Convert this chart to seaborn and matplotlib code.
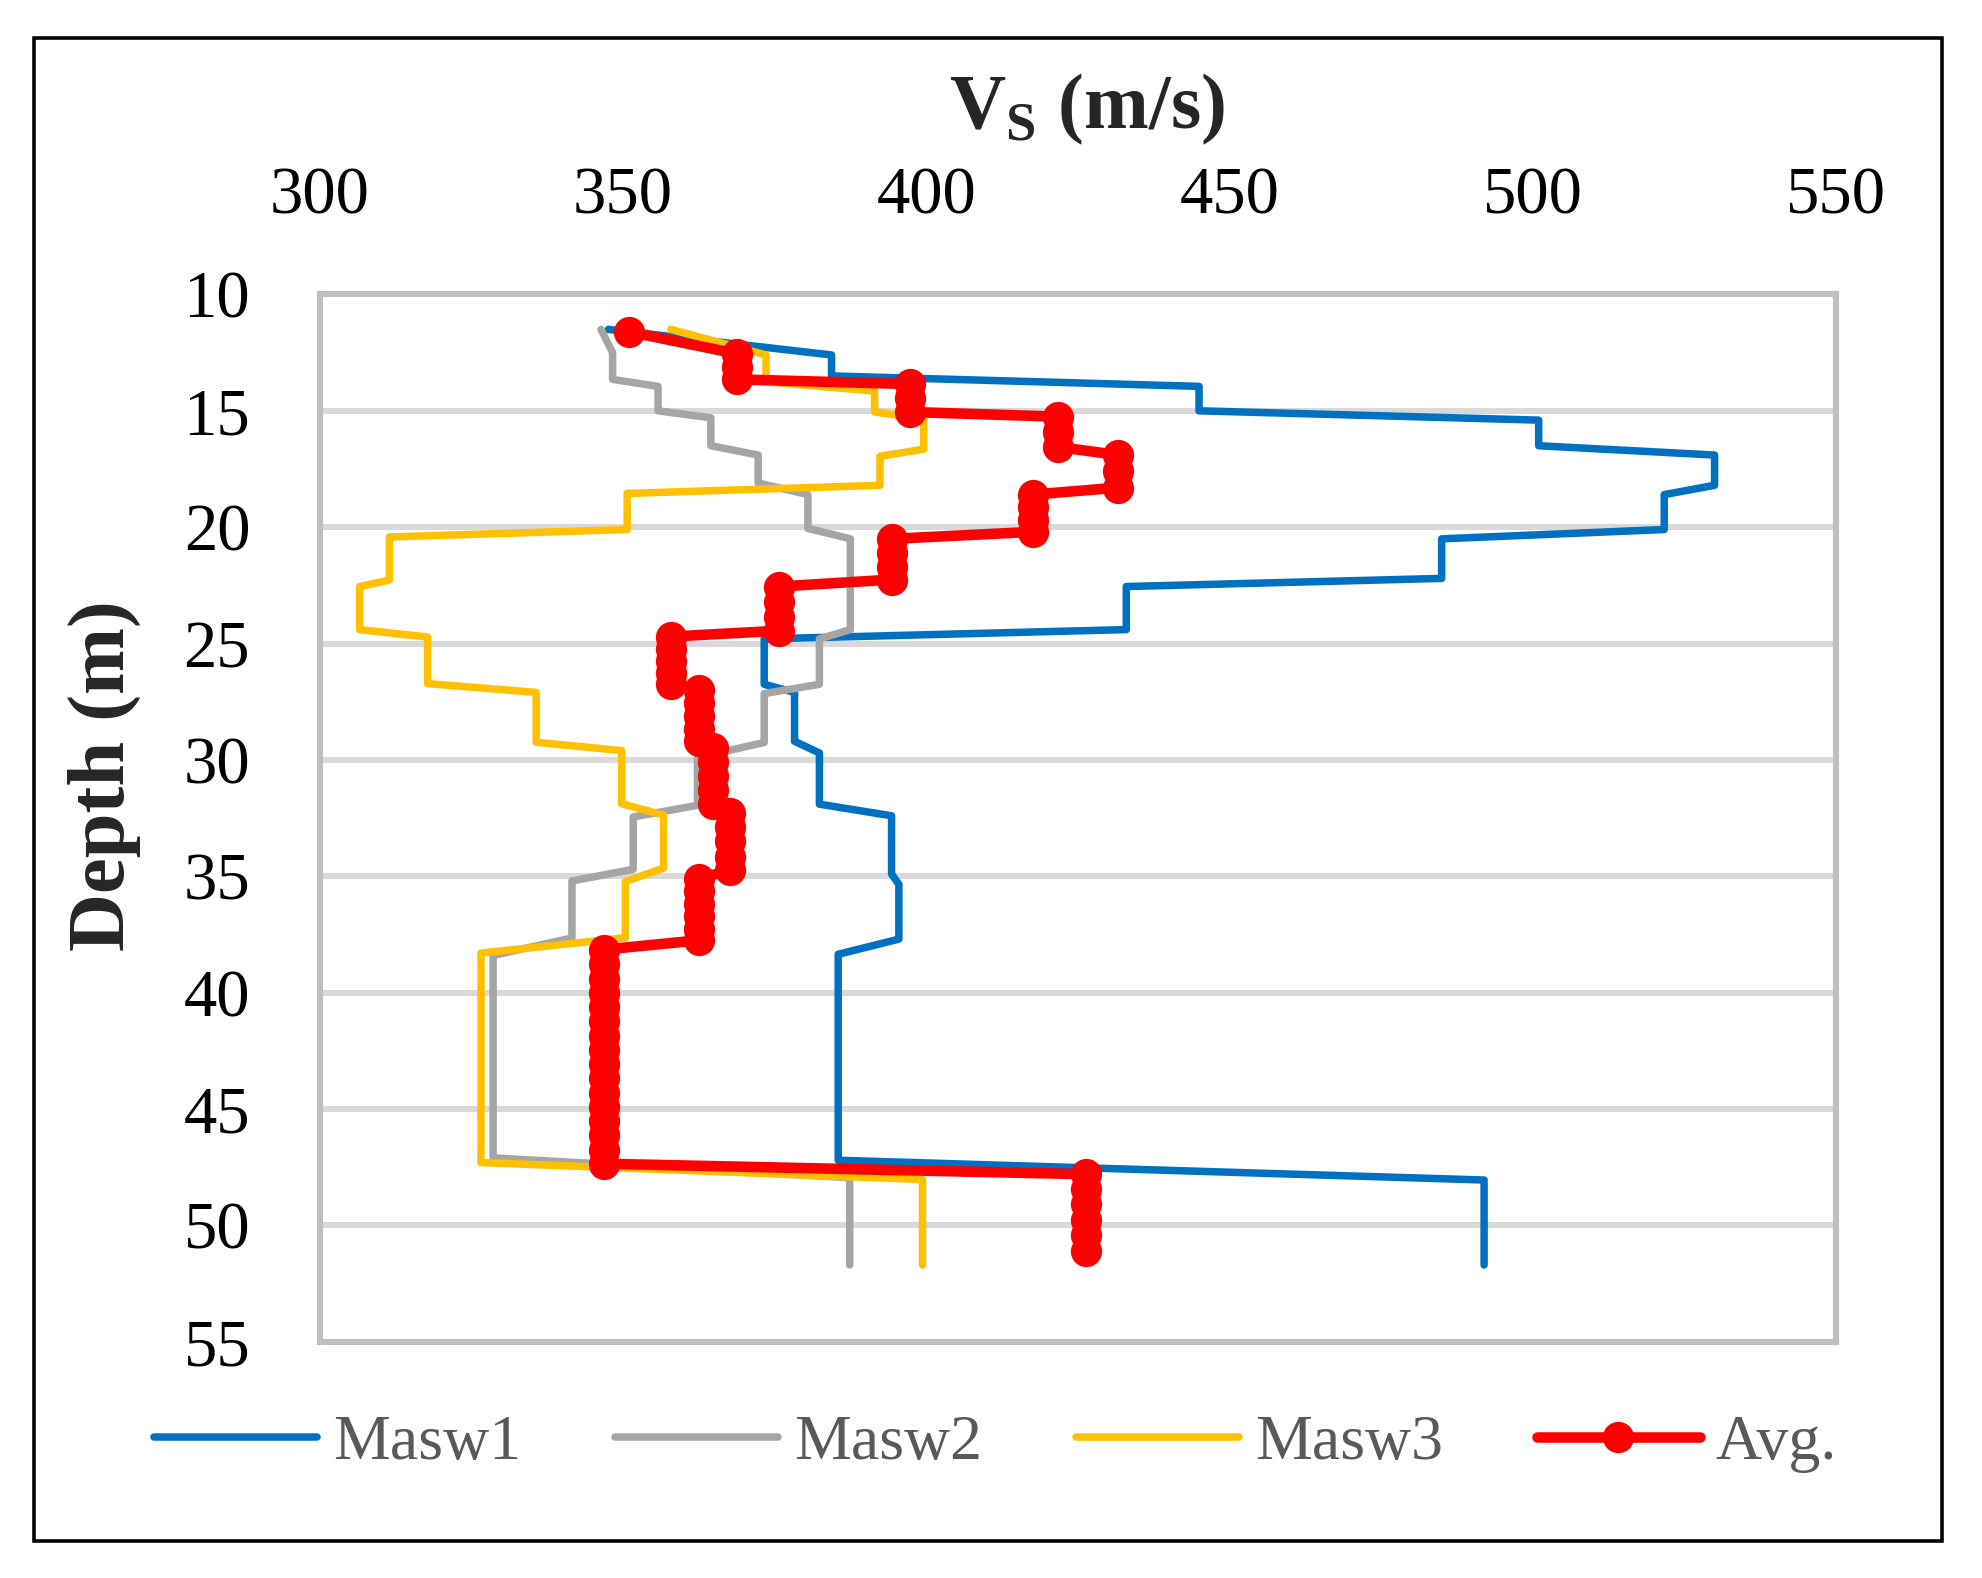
import numpy as np
import pandas as pd
import matplotlib
matplotlib.use('Agg')
import matplotlib.pyplot as plt
import seaborn as sns
from matplotlib.patches import Rectangle

# ---------- data ----------
masw1_vs = [347.6, 384.4, 384.4, 445.0, 445.0, 501.0, 501.0, 530.0, 530.0, 521.7, 521.7,
            485.0, 485.0, 433.0, 433.0, 373.3, 373.3, 378.3, 378.3, 382.4, 382.4, 394.3,
            394.3, 395.5, 395.5, 385.5, 385.5, 492.0, 492.0]
masw1_depth = [11.5, 12.6, 13.5, 13.95, 15.0, 15.4, 16.5, 16.9, 18.2, 18.6, 20.1,
               20.5, 22.2, 22.55, 24.4, 24.8, 26.75, 27.1, 29.2, 29.7, 31.9, 32.4,
               34.9, 35.35, 37.7, 38.35, 47.2, 48.05, 51.7]

masw2_vs = [346.4, 348.3, 348.3, 355.8, 355.8, 364.5, 364.5, 372.3, 372.3, 380.5, 380.5,
            387.5, 387.5, 382.4, 382.4, 373.3, 373.3, 362.3, 362.3, 351.7, 351.7, 341.6,
            341.6, 328.6, 328.6, 387.4, 387.4]
masw2_depth = [11.5, 12.5, 13.65, 13.95, 15.0, 15.3, 16.5, 16.9, 18.1, 18.6, 20.05,
               20.5, 24.4, 24.8, 26.75, 27.15, 29.25, 29.9, 31.95, 32.45, 34.7, 35.2,
               37.65, 38.4, 47.1, 47.95, 51.7]

masw3_vs = [357.9, 373.6, 373.6, 391.5, 391.5, 399.6, 399.6, 392.4, 392.4, 350.7, 350.7,
            311.5, 311.5, 306.6, 306.6, 317.8, 317.8, 335.7, 335.7, 349.8, 349.8, 356.7,
            356.7, 350.4, 350.4, 326.6, 326.6, 399.4, 399.4]
masw3_depth = [11.5, 12.6, 13.75, 14.15, 15.05, 15.35, 16.65, 16.95, 18.2, 18.55, 20.1,
               20.42, 22.27, 22.55, 24.4, 24.72, 26.72, 27.1, 29.24, 29.6, 31.88, 32.37,
               34.65, 35.22, 37.64, 38.3, 47.3, 48.03, 51.7]

# average profile: one velocity per layer, with the depths sampled in that layer
avg_layer_vs = [351.0, 368.8, 397.4, 421.7, 431.6, 417.6, 394.4, 375.7,
                357.9, 362.5, 364.9, 367.6, 362.5, 346.9, 426.3]
avg_layer_depths = [
    [11.6],
    [12.55, 13.1, 13.65],
    [13.85, 14.45, 15.05],
    [15.25, 15.9, 16.55],
    [16.9, 17.6, 18.3],
    [18.6, 19.15, 19.7, 20.2],
    [20.5, 21.1, 21.7, 22.25],
    [22.55, 23.2, 23.85, 24.45],
    [24.7, 25.25, 25.75, 26.25, 26.75],
    [27.0, 27.55, 28.1, 28.65, 29.2],
    [29.5, 30.1, 30.7, 31.3, 31.9],
    [32.3, 32.9, 33.5, 34.15, 34.75],
    [35.1, 35.65, 36.2, 36.7, 37.25, 37.75],
    [38.15, 38.75, 39.4, 40.0, 40.6, 41.2, 41.85, 42.45, 43.05, 43.65, 44.3,
     44.9, 45.5, 46.1, 46.75, 47.35],
    [47.8, 48.45, 49.1, 49.75, 50.4, 51.1],
]

x_ticks = [300, 350, 400, 450, 500, 550]
y_ticks = [10, 15, 20, 25, 30, 35, 40, 45, 50, 55]

# long table for the average
avg_rows = []
for v, depths in zip(avg_layer_vs, avg_layer_depths):
    for d in depths:
        avg_rows.append((v, d))
avg_df = pd.DataFrame(avg_rows, columns=['Vs', 'Depth'])

# ---------- plot ----------
sns.set_theme(style='white')
plt.rcParams['font.family'] = ['Liberation Serif', 'DejaVu Serif']
plt.rcParams['mathtext.fontset'] = 'custom'
plt.rcParams['mathtext.rm'] = 'Liberation Serif:bold'

fig = plt.figure(figsize=(9.915, 7.89), dpi=200)
ax = fig.add_axes([0.1612, 0.1497, 0.7646, 0.6637])

series = [('Masw1', masw1_vs, masw1_depth, '#0070C0'),
          ('Masw2', masw2_vs, masw2_depth, '#A5A5A5'),
          ('Masw3', masw3_vs, masw3_depth, '#FFC000')]
for name, vs, dep, col in series:
    sns.lineplot(x=vs, y=dep, sort=False, estimator=None, color=col, lw=2.7,
                 label=name, ax=ax, solid_joinstyle='round', solid_capstyle='round')

sns.lineplot(data=avg_df, x='Vs', y='Depth', sort=False, estimator=None, color='#FF0000',
             lw=3.8, marker='o', markersize=10.5, markeredgecolor='#FF0000',
             markerfacecolor='#FF0000', label='Avg.', ax=ax, solid_joinstyle='round')

ax.set_xlim(300, 550)
ax.set_ylim(55, 10)
ax.set_xticks(x_ticks)
ax.set_yticks(y_ticks)
ax.xaxis.tick_top()
ax.tick_params(axis='x', length=0, pad=24, labelsize=24, colors='black')
ax.tick_params(axis='y', length=0, pad=25, labelsize=24, colors='black')
ax.set_xlabel('')
ax.set_ylabel('')

ax.yaxis.grid(True, color='#D9D9D9', lw=2.2)
ax.xaxis.grid(False)
ax.set_axisbelow(True)
for s in ax.spines.values():
    s.set_color('#BFBFBF')
    s.set_linewidth(2.2)

# axis titles
fig.text(1087 / 1983, 1 - 128 / 1578, r'V$_\mathregular{S}$ (m/s)', ha='center',
         va='baseline', fontsize=28, fontweight='bold')
fig.text(104 / 1983, 1 - 776 / 1578, 'Depth (m)', ha='center', va='center',
         rotation=90, fontsize=29, fontweight='bold')

leg = ax.legend(loc='center', bbox_to_anchor=(0.502, 0.085), bbox_transform=fig.transFigure,
                ncol=4, frameon=False, fontsize=23, handlelength=2.55, handletextpad=0.25,
                columnspacing=1.47, numpoints=1)
for t in leg.get_texts():
    t.set_color('#595959')

# outer border
fig.patches.append(Rectangle((0.0172, 0.0234), 0.9620, 0.9525, transform=fig.transFigure,
                             fill=False, edgecolor='black', lw=1.3))

fig.savefig('out.png', dpi=200)
plt.close()
